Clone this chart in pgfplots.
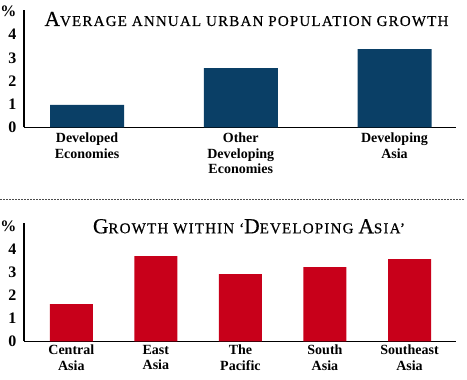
\documentclass[border=0pt]{standalone}
\usepackage{fontspec}
\setmainfont{Liberation Serif}
\usepackage{pgfplots}
\pgfplotsset{compat=1.18}
\definecolor{navy}{HTML}{0A3F66}
\definecolor{ared}{HTML}{C8001A}
\newcommand{\Tbig}[1]{{\fontsize{21.5}{22}\selectfont #1}}
\begin{document}
\begin{tikzpicture}
\path[use as bounding box] (0,0) rectangle (467pt,380pt);
\pgfplotsset{
 mystyle/.style={
  scale only axis, width=432pt,
  axis lines*=left, axis line style={-, line width=1.2pt, black},
  ymin=0, ytick={0,1,2,3,4,5}, yticklabels={0,1,2,3,4,\%},
  major tick length=0pt,
  /pgf/number format/assume math mode=true,
  yticklabel style={font=\fontsize{16}{16}\selectfont\bfseries, anchor=east, xshift=-4pt},
  xticklabel style={font=\fontsize{14}{15.5}\selectfont\bfseries, align=center, anchor=north},
  xtick=data,
  ybar, bar shift=0pt,
  clip=false,
 }
}
\begin{axis}[mystyle, at={(24pt,252.5pt)}, anchor=south west,
  height=117.5pt, ymax=5.06, xmin=-0.41, xmax=2.4, bar width=74pt,
  xticklabels={{Developed\\Economies},{Other\\Developing\\Economies},{Developing\\Asia}},
  xticklabel style={yshift=-2pt}]
\addplot[fill=navy, draw=none] coordinates {(0,0.97) (1,2.56) (2,3.38)};
\end{axis}
\begin{axis}[mystyle, at={(24pt,38.5pt)}, anchor=south west,
  height=118.5pt, ymax=5.13, xmin=-0.56, xmax=4.55, bar width=43pt,
  xticklabels={{Central\\Asia},{East\\Asia},{The\\Pacific},{South\\Asia},{Southeast\\Asia}}]
\addplot[fill=ared, draw=none] coordinates {(0,1.62) (1,3.70) (2,2.92) (3,3.22) (4,3.57)};
\end{axis}
\draw[gray!60!black, line width=0.8pt, dash pattern=on 1.5pt off 1.5pt] (0,180.5pt) -- (465pt,180.5pt);
\node[anchor=base, inner sep=0pt, font=\fontsize{15}{16}\selectfont\addfontfeature{LetterSpace=8,FakeBold=0.5}] at (246.5pt,354pt) {\Tbig{A}VERAGE ANNUAL URBAN POPULATION GROWTH};
\node[anchor=base, inner sep=0pt, font=\fontsize{15}{16}\selectfont\addfontfeature{LetterSpace=8,FakeBold=0.5}] at (249pt,146.7pt) {\Tbig{G}ROWTH WITHIN `\Tbig{D}EVELOPING \Tbig{A}SIA'};
\end{tikzpicture}
\end{document}
